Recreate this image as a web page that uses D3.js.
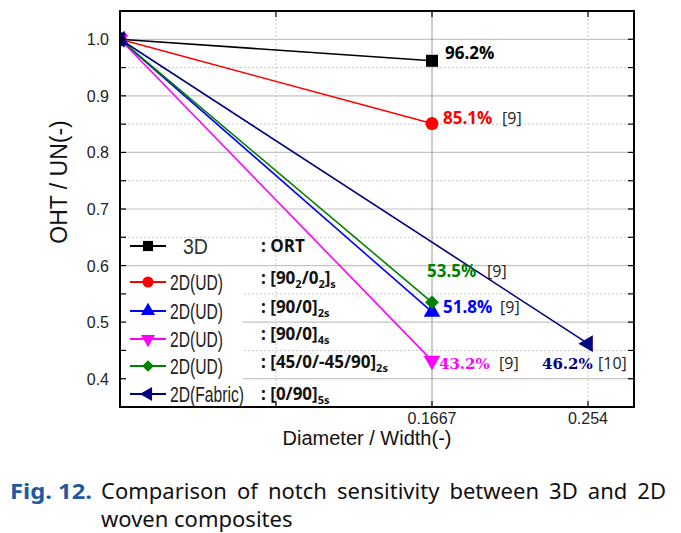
<!DOCTYPE html>
<html>
<head>
<meta charset="utf-8">
<script src="https://cdn.jsdelivr.net/npm/d3@7"></script>
<style>
  html, body { margin: 0; padding: 0; background: #fff; }
  svg { display: block; }
</style>
</head>
<body>
<svg id="chart" width="681" height="533"></svg>
<script>
// ---- data ----
const seriesNames = ["3D", "2D(UD)", "2D(UD)", "2D(UD)", "2D(UD)", "2D(Fabric)"];
const layups = [": ORT", ": [90{2}/0{2}]{s}", ": [90/0]{2s}", ": [90/0]{4s}", ": [45/0/-45/90]{2s}", ": [0/90]{5s}"];
const xStart = [0, 0, 0, 0, 0, 0];
const yStart = [1.0, 1.0, 1.0, 1.0, 1.0, 1.0];
const xEnd = [0.1667, 0.1667, 0.1667, 0.1667, 0.1667, 0.254];
const yEnd = [0.962, 0.851, 0.518, 0.432, 0.535, 0.462];
const pctLabels = ["96.2%", "85.1%", "51.8%", "43.2%", "53.5%", "46.2%"];
const refLabels = ["", "[9]", "[9]", "[9]", "[9]", "[10]"];
const yTicks = [0.4, 0.5, 0.6, 0.7, 0.8, 0.9, 1.0];
const yMinorTicks = [0.45, 0.55, 0.65, 0.75, 0.85, 0.95];
const xTicks = [0.0833, 0.1667, 0.254];
const xTickLabels = ["", "0.1667", "0.254"];

// ---- styles ----
const colors = ["#000000", "#ff0000", "#0000ff", "#ff00ff", "#008000", "#000080"];
const symbols = ["square", "circle", "up", "down", "diamond", "left"];
// [pct dx, pct dy, ref dx, serif?]
const labelStyle = [
  [13, -2, 0, false],
  [11, 0, 70, false],
  [11, 1, 68, false],
  [7, 8, 67, true],
  [-5, -25, 55, false],
  [-46, 25, 10, true]
];

const svg = d3.select("#chart");
const pL = 120, pR = 634, pT = 11, pB = 407;

const x = d3.scaleLinear()
  .domain([0, 0.1667, 0.254, 0.28])
  .range([pL, pL + 312, pL + 468, pR]);
const y = d3.scaleLinear().domain([0.35, 1.05]).range([pB, pT]);

function markerPath(kind, size) {
  const map = {
    square: d3.symbolSquare, circle: d3.symbolCircle,
    up: d3.symbolTriangle, down: d3.symbolTriangle,
    diamond: d3.symbolSquare, left: d3.symbolTriangle
  };
  return d3.symbol().type(map[kind]).size(size)();
}
function markerRot(kind) {
  return { down: 180, diamond: 45, left: -90 }[kind] || 0;
}
function markerSize(kind) {
  return { square: 144, circle: 133, up: 120, down: 120, diamond: 95, left: 120 }[kind];
}

// grid
const grid = svg.append("g");
grid.selectAll("line.minor")
  .data(yMinorTicks)
  .join("line")
  .attr("x1", pL).attr("x2", pR)
  .attr("y1", d => y(d)).attr("y2", d => y(d))
  .attr("stroke", "#c8c8c8").attr("stroke-dasharray", "2,2");
grid.selectAll("line.major")
  .data(yTicks)
  .join("line")
  .attr("x1", pL).attr("x2", pR)
  .attr("y1", d => y(d)).attr("y2", d => y(d))
  .attr("stroke", "#c4c4c4").attr("stroke-width", 1.2);
grid.selectAll("line.vx")
  .data(xTicks)
  .join("line")
  .attr("x1", d => x(d)).attr("x2", d => x(d))
  .attr("y1", pT).attr("y2", pB)
  .attr("stroke", (d, i) => i === 1 ? "#9a9a9a" : "#c8c8c8")
  .attr("stroke-dasharray", (d, i) => i === 1 ? null : "2,2");

// white backing behind the legend entries
svg.append("rect")
  .attr("x", pL + 1).attr("y", 270)
  .attr("width", 122).attr("height", pB - 271)
  .attr("fill", "#fff");

// series
svg.append("clipPath").attr("id", "clip")
  .append("rect").attr("x", pL - 1).attr("y", pT).attr("width", pR - pL + 2).attr("height", pB - pT);

const plot = svg.append("g").attr("clip-path", "url(#clip)");
const idx = d3.range(seriesNames.length);

plot.selectAll("line.series")
  .data(idx)
  .join("line")
  .attr("x1", i => x(xStart[i])).attr("y1", i => y(yStart[i]))
  .attr("x2", i => x(xEnd[i])).attr("y2", i => y(yEnd[i]))
  .attr("stroke", i => colors[i]).attr("stroke-width", 1.6);

idx.forEach(i => {
  [[xStart[i], yStart[i]], [xEnd[i], yEnd[i]]].forEach(p => {
    plot.append("path")
      .attr("d", markerPath(symbols[i], markerSize(symbols[i])))
      .attr("transform", `translate(${x(p[0])},${y(p[1])}) rotate(${markerRot(symbols[i])})`)
      .attr("fill", colors[i]);
  });
});

// value labels
idx.forEach(i => {
  const st = labelStyle[i];
  const px = x(xEnd[i]), py = y(yEnd[i]);
  svg.append("text")
    .attr("x", px + st[0]).attr("y", py + st[1])
    .attr("font-family", st[3] ? "DejaVu Serif" : "Open Sans")
    .attr("font-size", st[3] ? 15 : 17)
    .attr("font-weight", "bold")
    .attr("fill", colors[i])
    .text(pctLabels[i]);
  if (refLabels[i]) {
    svg.append("text")
      .attr("x", px + st[2]).attr("y", py + st[1])
      .attr("font-family", "Open Sans").attr("font-size", 16)
      .attr("fill", "#222")
      .text(refLabels[i]);
  }
});

// frame and ticks
svg.append("rect")
  .attr("x", pL).attr("y", pT)
  .attr("width", pR - pL).attr("height", pB - pT)
  .attr("fill", "none").attr("stroke", "#000").attr("stroke-width", 2);

const yAllTicks = yTicks.concat(yMinorTicks);
const axisG = svg.append("g").attr("stroke", "#000").attr("stroke-width", 1.2);
axisG.selectAll("line.yl").data(yAllTicks).join("line")
  .attr("x1", pL).attr("x2", pL + 6).attr("y1", d => y(d)).attr("y2", d => y(d));
axisG.selectAll("line.yr").data(yAllTicks).join("line")
  .attr("x1", pR - 6).attr("x2", pR).attr("y1", d => y(d)).attr("y2", d => y(d));
axisG.selectAll("line.xb").data(xTicks).join("line")
  .attr("x1", d => x(d)).attr("x2", d => x(d)).attr("y1", pB).attr("y2", pB - 6);
axisG.selectAll("line.xt").data(xTicks).join("line")
  .attr("x1", d => x(d)).attr("x2", d => x(d)).attr("y1", pT).attr("y2", pT + 6);

svg.append("g").selectAll("text").data(yTicks).join("text")
  .attr("x", pL - 11).attr("y", d => y(d) + 6)
  .attr("text-anchor", "end")
  .attr("font-family", "Liberation Sans").attr("font-size", 16)
  .attr("fill", "#222")
  .text(d3.format(".1f"));

svg.append("g").selectAll("text")
  .data(xTicks.map((v, i) => [v, xTickLabels[i]]).filter(d => d[1]))
  .join("text")
  .attr("x", d => x(d[0])).attr("y", pB + 17)
  .attr("text-anchor", "middle")
  .attr("font-family", "Liberation Sans").attr("font-size", 16)
  .attr("fill", "#222")
  .text(d => d[1]);

svg.append("text")
  .attr("x", 367).attr("y", 445)
  .attr("text-anchor", "middle")
  .attr("font-family", "Liberation Sans").attr("font-size", 20)
  .attr("fill", "#111")
  .text("Diameter / Width(-)");

svg.append("text")
  .attr("transform", "translate(67,182) rotate(-90)")
  .attr("text-anchor", "middle")
  .attr("font-family", "Liberation Sans").attr("font-size", 23)
  .attr("fill", "#111")
  .text("OHT / UN(-)");

// legend
const legendY = [246, 282, 311, 339, 366, 394];
const legendTextW = { "3D": 25, "2D(UD)": 53, "2D(Fabric)": 74 };
const layupDy = [0, -4, -4, -5, -4, 0];
idx.forEach(i => {
  const ly = legendY[i];
  const g = svg.append("g");
  g.append("line")
    .attr("x1", 130).attr("x2", 166).attr("y1", ly).attr("y2", ly)
    .attr("stroke", colors[i]).attr("stroke-width", 2);
  g.append("path")
    .attr("d", markerPath(symbols[i], markerSize(symbols[i]) * 0.72))
    .attr("transform", `translate(148,${ly}) rotate(${markerRot(symbols[i])})`)
    .attr("fill", colors[i]);
  // narrow legend lettering: squeeze horizontally to the measured width
  const lt = g.append("text")
    .attr("x", 0).attr("y", 0)
    .attr("font-family", "Liberation Sans").attr("font-size", 22)
    .attr("fill", i === 0 ? "#333" : "#222")
    .text(seriesNames[i]);
  const sx = legendTextW[seriesNames[i]] / lt.node().getComputedTextLength();
  lt.attr("transform", `translate(${i === 0 ? 183 : 170},${ly + 8}) scale(${sx},1)`);

  const t = g.append("text")
    .attr("x", 261).attr("y", ly + 6 + layupDy[i])
    .attr("font-family", "Open Sans").attr("font-size", 17)
    .attr("font-weight", "bold").attr("fill", "#111");
  let shifted = false;
  layups[i].split(/(\{[^}]*\})/).filter(s => s).forEach(part => {
    if (part[0] === "{") {
      t.append("tspan").attr("font-size", 11).attr("dy", 4).text(part.slice(1, -1));
      shifted = true;
    } else {
      t.append("tspan").attr("dy", shifted ? -4 : null).text(part);
      shifted = false;
    }
  });
});

// caption
const cap = svg.append("g");
cap.append("text")
  .attr("x", 10).attr("y", 499)
  .attr("font-family", "Noto Sans").attr("font-size", 22)
  .attr("font-weight", "bold").attr("fill", "#1f5b9c")
  .attr("textLength", 82).attr("lengthAdjust", "spacingAndGlyphs")
  .text("Fig. 12.");
const line1 = cap.append("text")
  .attr("x", 101).attr("y", 499)
  .attr("font-family", "Noto Sans").attr("font-size", 22)
  .attr("fill", "#111")
  .text("Comparison of notch sensitivity between 3D and 2D");
const w1 = line1.node().getComputedTextLength();
line1.attr("word-spacing", Math.max(0, ((666 - 101) - w1) / 7));
cap.append("text")
  .attr("x", 101).attr("y", 527)
  .attr("font-family", "Noto Sans").attr("font-size", 22)
  .attr("fill", "#111")
  .text("woven composites");
</script>
</body>
</html>
